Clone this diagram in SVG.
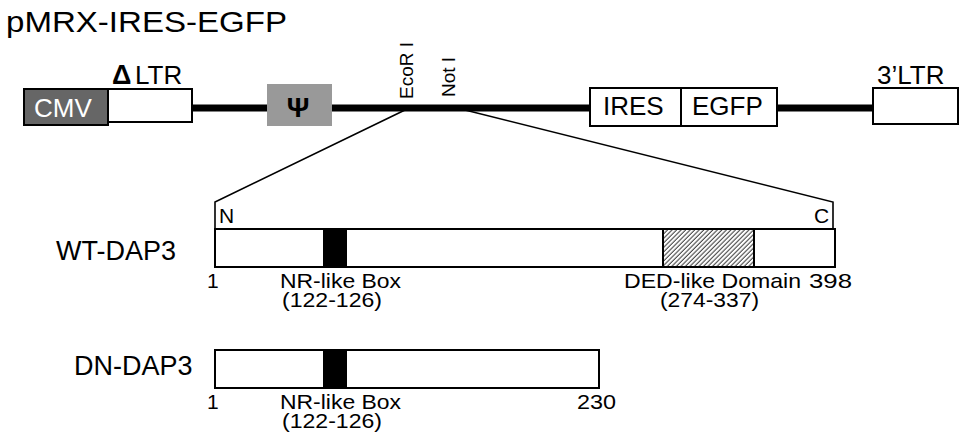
<svg xmlns="http://www.w3.org/2000/svg" width="961" height="437" viewBox="0 0 961 437">
<defs>
<style>
.t{font-family:"Liberation Sans",Arial,sans-serif;fill:#000}
.box{fill:#fff;stroke:#000;stroke-width:2}
.thin{fill:none;stroke:#000;stroke-width:1.6}
.bb{stroke:#000;stroke-width:7}
.lbl{font-size:21px}
</style>
<pattern id="hatch" patternUnits="userSpaceOnUse" width="3.2" height="10" patternTransform="rotate(45)">
<rect width="3.2" height="10" fill="#fff"/>
<line x1="1" y1="0" x2="1" y2="10" stroke="#333" stroke-width="1"/>
</pattern>
</defs>
<rect width="961" height="437" fill="#fff"/>
<text id="title" class="t" x="6" y="32" font-size="30" textLength="281" lengthAdjust="spacingAndGlyphs">pMRX-IRES-EGFP</text>

<g id="connectors">
<line class="bb" x1="192" y1="108" x2="267" y2="108"/>
<line class="bb" x1="332" y1="108" x2="590" y2="108"/>
<line class="bb" x1="777" y1="108" x2="873" y2="108"/>
<polyline class="thin" points="405,110 215,202 215,229"/>
<polyline class="thin" points="465,110 833,202 833,229"/>
</g>

<g id="cmv">
<rect x="24" y="89" width="84" height="36" fill="#666" stroke="#000" stroke-width="2"/>
<text class="t" x="34" y="117" font-size="26" style="fill:#fff">CMV</text>
</g>
<g id="ltr5">
<rect class="box" x="108" y="89" width="84" height="33"/>
<text class="t" x="112" y="84" font-size="27" font-weight="bold">Δ</text>
<text class="t" x="135" y="84" font-size="26">LTR</text>
</g>
<g id="psi">
<rect x="267" y="84" width="65" height="42" fill="#999"/>
<text class="t" x="298" y="117" font-size="28" font-weight="bold" text-anchor="middle">Ψ</text>
</g>
<g id="ecori">
<text class="t" transform="translate(413,99) rotate(-90)" font-size="19">EcoR I</text>
</g>
<g id="noti">
<text class="t" transform="translate(455,97) rotate(-90)" font-size="19">Not I</text>
</g>
<g id="ires">
<rect class="box" x="590" y="88" width="91" height="38"/>
<text class="t" x="603" y="115" font-size="26">IRES</text>
</g>
<g id="egfp">
<rect class="box" x="681" y="88" width="96" height="38"/>
<text class="t" x="692" y="115" font-size="26">EGFP</text>
</g>
<g id="ltr3">
<rect class="box" x="873" y="88" width="85" height="36"/>
<text class="t" x="877" y="84" font-size="26">3’LTR</text>
</g>

<g id="wt-dap3">
<text class="t" x="56" y="260" font-size="27">WT-DAP3</text>
<text class="t" x="219" y="223" font-size="21">N</text>
<text class="t" x="814" y="223" font-size="21">C</text>
<rect class="box" x="215" y="229" width="620" height="38"/>
<rect x="323" y="229" width="24" height="38" fill="#000"/>
<rect x="663" y="229" width="91" height="38" fill="url(#hatch)" stroke="#000" stroke-width="2"/>
<text class="t lbl" x="207" y="288">1</text>
<text class="t lbl" x="280" y="288" textLength="121" lengthAdjust="spacingAndGlyphs">NR-like Box</text>
<text class="t lbl" x="282" y="307" textLength="100" lengthAdjust="spacingAndGlyphs">(122-126)</text>
<text class="t lbl" x="624" y="288" textLength="177" lengthAdjust="spacingAndGlyphs">DED-like Domain</text>
<text class="t lbl" x="809" y="288" textLength="43" lengthAdjust="spacingAndGlyphs">398</text>
<text class="t lbl" x="660" y="307" textLength="99" lengthAdjust="spacingAndGlyphs">(274-337)</text>
</g>

<g id="dn-dap3">
<text class="t" x="74" y="375" font-size="27">DN-DAP3</text>
<rect class="box" x="215" y="350" width="384" height="38"/>
<rect x="323" y="350" width="24" height="38" fill="#000"/>
<text class="t lbl" x="207" y="409">1</text>
<text class="t lbl" x="280" y="409" textLength="121" lengthAdjust="spacingAndGlyphs">NR-like Box</text>
<text class="t lbl" x="282" y="428" textLength="100" lengthAdjust="spacingAndGlyphs">(122-126)</text>
<text class="t lbl" x="577" y="409" textLength="39" lengthAdjust="spacingAndGlyphs">230</text>
</g>
</svg>
